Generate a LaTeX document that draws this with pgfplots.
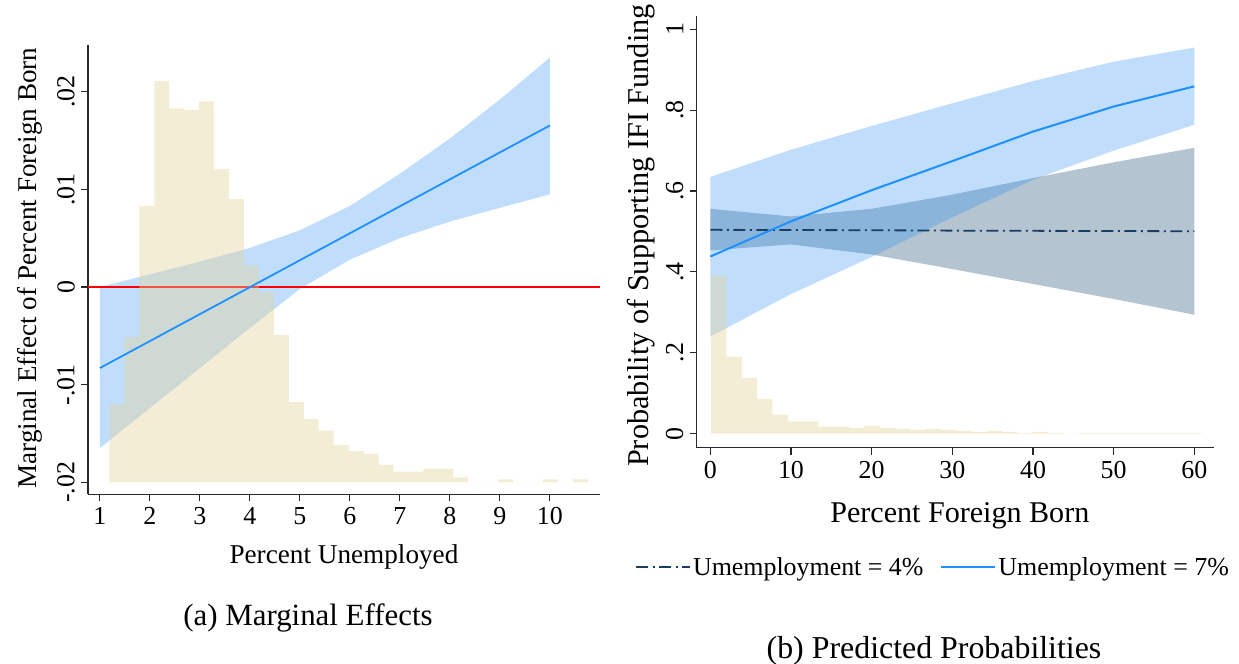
\documentclass[border=0pt]{standalone}
\usepackage{fontspec}
\setmainfont{Liberation Serif}
\usepackage{pgfplots}
\pgfplotsset{compat=1.18}
\definecolor{histc}{RGB}{228,210,153}
\definecolor{ciblue}{RGB}{45,145,245}
\definecolor{cigray}{RGB}{181,196,209}
\definecolor{lineblue}{RGB}{30,144,255}
\definecolor{navyl}{RGB}{26,61,100}
\definecolor{axisc}{RGB}{40,40,40}
\pgfplotsset{stataax/.style={
  scale only axis, axis x line=bottom, axis y line=left,
  axis line style={-, axisc, line width=1.3bp},
  tick align=outside, major tick length=7bp,
  every tick/.style={axisc, line width=1.1bp},
  xticklabel style={font=\fontsize{26}{26}\selectfont, inner sep=6bp},
  yticklabel style={font=\fontsize{26}{26}\selectfont, inner sep=6bp, rotate=90, anchor=south},
  /pgf/number format/assume math mode=true,
  scaled y ticks=false, scaled x ticks=false,
  clip=true,
}}
\begin{document}
\begin{tikzpicture}
% ---------------- panel (a)
\begin{axis}[stataax, at={(88bp,169.7bp)}, anchor=south west,
  width=511.9bp, height=449.3bp,
  xmin=0.762, xmax=11, ymin=-0.02123, ymax=0.02478,
  xtick={1,2,...,10},
  ytick={-0.02,-0.01,0,0.01,0.02}, yticklabels={-.02,-.01,0,.01,.02},
  xlabel={Percent Unemployed},
  xlabel style={font=\fontsize{27.3}{27.3}\selectfont, at={(axis description cs:0.5,-0.1536)}, anchor=base},
  ylabel={Marginal Effect of Percent Foreign Born},
  ylabel style={font=\fontsize{27.2}{27.2}\selectfont, at={(axis description cs:-0.1133,0.5037)}, anchor=center},
]
% confidence band
\addplot[fill=ciblue, fill opacity=0.3, draw=none, forget plot] coordinates {
(1,0.0000)(2,0.0013)(3,0.0026)(4,0.0040)(5,0.0058)(6,0.0083)(7,0.0116)(8,0.0152)(9,0.0192)(10,0.0235)
(10,0.0095)(9,0.0081)(8,0.0067)(7,0.0050)(6,0.0028)(5,-0.0002)(4,-0.0042)(3,-0.0083)(2,-0.0124)(1,-0.0165)};
% zero line
\addplot[red, line width=1.3bp, forget plot] coordinates {(0.762,0)(11,0)};
% histogram of percent unemployed
\addplot[const plot, draw=none, fill=histc, fill opacity=0.4, forget plot] coordinates {
(1.190,-0.02)
(1.190,-0.0120)(1.489,-0.0051)(1.788,0.0083)(2.087,0.0211)(2.386,0.0183)(2.685,0.0181)
(2.984,0.0190)(3.283,0.0121)(3.582,0.0090)(3.881,0.0022)(4.180,-0.0005)(4.479,-0.0049)
(4.778,-0.0118)(5.077,-0.0135)(5.376,-0.0147)(5.675,-0.0162)(5.974,-0.0168)(6.273,-0.0171)
(6.572,-0.0182)(6.871,-0.0189)(7.170,-0.0189)(7.469,-0.0186)(7.768,-0.0186)(8.067,-0.0195)
(8.366,-0.02)(8.665,-0.02)(8.964,-0.0197)(9.263,-0.02)(9.562,-0.02)(9.861,-0.0197)
(10.160,-0.02)(10.459,-0.0197)(10.758,-0.02)};
% marginal effect
\addplot[lineblue, line width=1.8bp, forget plot] coordinates {
(1,-0.0083)(2,-0.00554)(3,-0.00278)(4,-0.00002)(5,0.00274)(6,0.0055)(7,0.00826)(8,0.01102)(9,0.01378)(10,0.01654)};
\end{axis}
% ---------------- panel (b)
\begin{axis}[stataax, at={(696.6bp,216.3bp)}, anchor=south west,
  width=517.1bp, height=431.7bp,
  xmin=-1.7, xmax=62.4, ymin=-0.035, ymax=1.033,
  xtick={0,10,...,60},
  ytick={0,0.2,0.4,0.6,0.8,1}, yticklabels={0,.2,.4,.6,.8,1},
  xlabel={Percent Foreign Born},
  xlabel style={font=\fontsize{30.2}{30.2}\selectfont, at={(axis description cs:0.509,-0.1737)}, anchor=base},
  ylabel={Probability of Supporting IFI Funding},
  ylabel style={font=\fontsize{30.4}{30.4}\selectfont, at={(axis description cs:-0.1075,0.4915)}, anchor=center},
  legend columns=2,
  legend style={at={(axis description cs:-0.119,-0.2765)}, anchor=west, draw=none, fill=none,
    inner sep=0pt, font=\fontsize{26}{26}\selectfont,
    /tikz/every even column/.append style={column sep=15bp}},
  legend image code/.code={\draw[mark repeat=2,mark phase=2,#1] plot coordinates {(0bp,0bp)(27bp,0bp)(54bp,0bp)};},
]
% CI for unemployment = 4%
\addplot[fill=cigray, draw=none, forget plot] coordinates {
(0,0.556)(10,0.537)(20,0.556)(30,0.591)(40,0.632)(50,0.671)(60,0.707)
(60,0.294)(50,0.333)(40,0.370)(30,0.407)(20,0.443)(10,0.468)(0,0.453)};
% CI for unemployment = 7%
\addplot[fill=ciblue, fill opacity=0.3, draw=none, forget plot] coordinates {
(0,0.635)(10,0.702)(20,0.761)(30,0.817)(40,0.872)(50,0.920)(60,0.955)
(60,0.764)(50,0.700)(40,0.628)(30,0.535)(20,0.437)(10,0.345)(0,0.240)};
% histogram of percent foreign born
\addplot[const plot, draw=none, fill=histc, fill opacity=0.4, forget plot] coordinates {
(0.1,0)
(0.1,0.391)(2.0,0.190)(3.9,0.138)(5.8,0.086)(7.7,0.047)(9.6,0.030)(11.5,0.030)(13.4,0.017)
(15.3,0.017)(17.2,0.014)(19.1,0.019)(21.0,0.014)(22.9,0.0115)(24.8,0.009)(26.7,0.0115)
(28.6,0.009)(30.5,0.0066)(32.4,0.004)(34.3,0.0066)(36.2,0.004)(38.1,0.0016)(40.0,0.004)
(41.9,0.0016)(43.8,0)(45.7,0.0016)(47.6,0.0016)(49.5,0.0016)(51.4,0.0016)(53.3,0.0016)
(55.2,0.0016)(57.1,0.0016)(59.0,0.0016)(60.9,0)};
\addplot[navyl, line width=1.8bp, dash pattern=on 12bp off 4.5bp on 2bp off 4.5bp] coordinates {
(0,0.504)(10,0.5035)(20,0.503)(30,0.502)(40,0.5015)(50,0.501)(60,0.5005)};
\addlegendentry{Umemployment = 4\%}
\addplot[color=lineblue, line width=2bp] coordinates {
(0,0.438)(10,0.525)(20,0.602)(30,0.674)(40,0.747)(50,0.809)(60,0.859)};
\addlegendentry{Umemployment = 7\%}
\end{axis}
\node[font=\fontsize{31}{31}\selectfont, anchor=base] at (308bp,39bp) {(a) Marginal Effects};
\node[font=\fontsize{32}{32}\selectfont, anchor=base] at (934bp,6bp) {(b) Predicted Probabilities};
\pgfresetboundingbox
\useasboundingbox (0,0) rectangle (1239bp,664bp);
\end{tikzpicture}
\end{document}
